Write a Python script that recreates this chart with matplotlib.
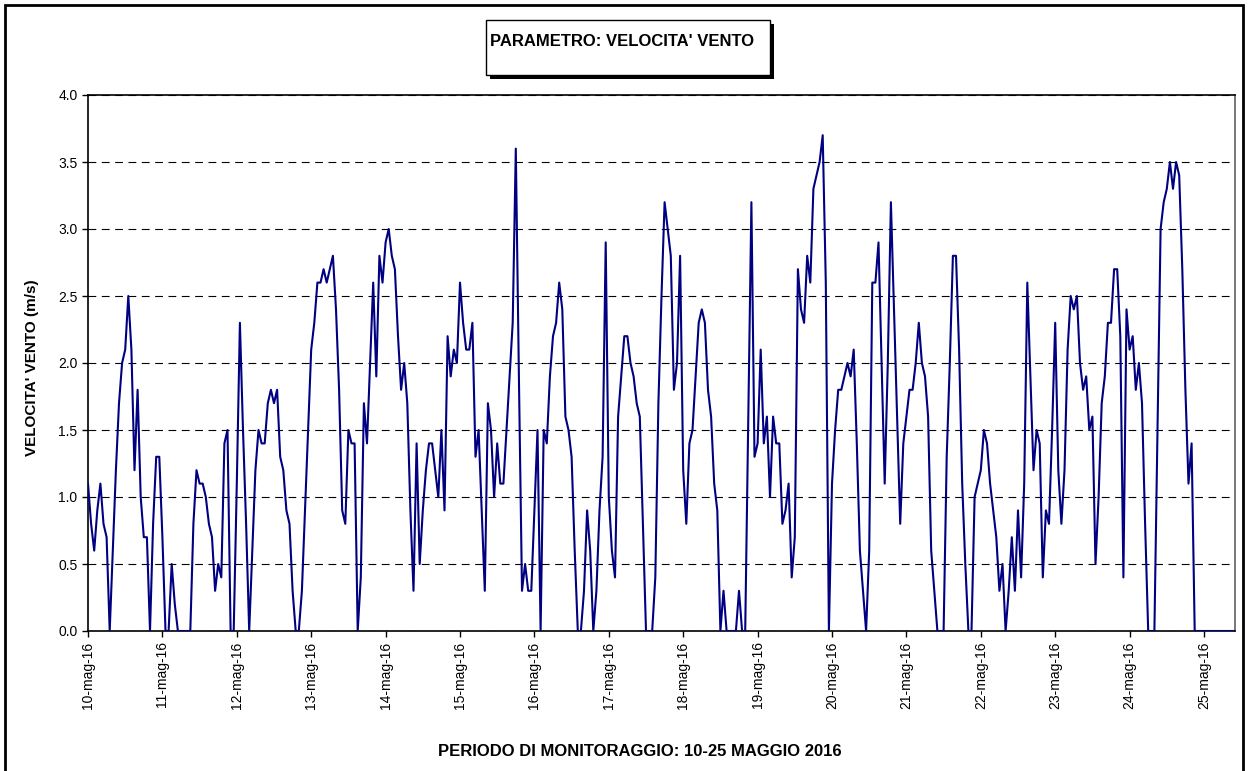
import numpy as np
import matplotlib
matplotlib.use("Agg")  # nessun display
import matplotlib.pyplot as plt
from matplotlib.patches import Rectangle

plt.rcParams["font.family"] = ["Liberation Sans", "DejaVu Sans"]

# ---------------------------------------------------------------------------
# Dati: velocita' del vento oraria (m/s), 10-25 maggio 2016
# ---------------------------------------------------------------------------

giorni = ["10-mag-16", "11-mag-16", "12-mag-16", "13-mag-16", "14-mag-16",
          "15-mag-16", "16-mag-16", "17-mag-16", "18-mag-16", "19-mag-16",
          "20-mag-16", "21-mag-16", "22-mag-16", "23-mag-16", "24-mag-16",
          "25-mag-16"]

vento_10 = [1.1, 0.8, 0.6, 0.9, 1.1, 0.8, 0.7, 0.0, 0.6, 1.2, 1.7, 2.0,
            2.1, 2.5, 2.1, 1.2, 1.8, 1.0, 0.7, 0.7, 0.0, 0.8, 1.3, 1.3]
vento_11 = [0.7, 0.0, 0.0, 0.5, 0.2, 0.0, 0.0, 0.0, 0.0, 0.0, 0.8, 1.2,
            1.1, 1.1, 1.0, 0.8, 0.7, 0.3, 0.5, 0.4, 1.4, 1.5, 0.0, 0.0]
vento_12 = [1.1, 2.3, 1.5, 0.8, 0.0, 0.6, 1.2, 1.5, 1.4, 1.4, 1.7, 1.8,
            1.7, 1.8, 1.3, 1.2, 0.9, 0.8, 0.3, 0.0, 0.0, 0.3, 0.9, 1.5]
vento_13 = [2.1, 2.3, 2.6, 2.6, 2.7, 2.6, 2.7, 2.8, 2.4, 1.8, 0.9, 0.8,
            1.5, 1.4, 1.4, 0.0, 0.4, 1.7, 1.4, 2.0, 2.6, 1.9, 2.8, 2.6]
vento_14 = [2.9, 3.0, 2.8, 2.7, 2.2, 1.8, 2.0, 1.7, 0.9, 0.3, 1.4, 0.5,
            0.9, 1.2, 1.4, 1.4, 1.2, 1.0, 1.5, 0.9, 2.2, 1.9, 2.1, 2.0]
vento_15 = [2.6, 2.3, 2.1, 2.1, 2.3, 1.3, 1.5, 0.9, 0.3, 1.7, 1.5, 1.0,
            1.4, 1.1, 1.1, 1.5, 1.9, 2.3, 3.6, 1.9, 0.3, 0.5, 0.3, 0.3]
vento_16 = [0.9, 1.5, 0.0, 1.5, 1.4, 1.9, 2.2, 2.3, 2.6, 2.4, 1.6, 1.5,
            1.3, 0.6, 0.0, 0.0, 0.3, 0.9, 0.6, 0.0, 0.3, 0.9, 1.3, 2.9]
vento_17 = [1.0, 0.6, 0.4, 1.6, 1.9, 2.2, 2.2, 2.0, 1.9, 1.7, 1.6, 0.8,
            0.0, 0.0, 0.0, 0.4, 1.7, 2.5, 3.2, 3.0, 2.8, 1.8, 2.0, 2.8]
vento_18 = [1.2, 0.8, 1.4, 1.5, 1.9, 2.3, 2.4, 2.3, 1.8, 1.6, 1.1, 0.9,
            0.0, 0.3, 0.0, 0.0, 0.0, 0.0, 0.3, 0.0, 0.0, 1.6, 3.2, 1.3]
vento_19 = [1.4, 2.1, 1.4, 1.6, 1.0, 1.6, 1.4, 1.4, 0.8, 0.9, 1.1, 0.4,
            0.7, 2.7, 2.4, 2.3, 2.8, 2.6, 3.3, 3.4, 3.5, 3.7, 2.6, 0.0]
vento_20 = [1.1, 1.5, 1.8, 1.8, 1.9, 2.0, 1.9, 2.1, 1.4, 0.6, 0.3, 0.0,
            0.6, 2.6, 2.6, 2.9, 2.0, 1.1, 2.0, 3.2, 2.4, 1.6, 0.8, 1.4]
vento_21 = [1.6, 1.8, 1.8, 2.0, 2.3, 2.0, 1.9, 1.6, 0.6, 0.3, 0.0, 0.0,
            0.0, 1.3, 2.0, 2.8, 2.8, 2.1, 1.1, 0.5, 0.0, 0.0, 1.0, 1.1]
vento_22 = [1.2, 1.5, 1.4, 1.1, 0.9, 0.7, 0.3, 0.5, 0.0, 0.3, 0.7, 0.3,
            0.9, 0.4, 1.1, 2.6, 1.9, 1.2, 1.5, 1.4, 0.4, 0.9, 0.8, 1.5]
vento_23 = [2.3, 1.2, 0.8, 1.2, 2.1, 2.5, 2.4, 2.5, 2.0, 1.8, 1.9, 1.5,
            1.6, 0.5, 1.0, 1.7, 1.9, 2.3, 2.3, 2.7, 2.7, 2.2, 0.4, 2.4]
vento_24 = [2.1, 2.2, 1.8, 2.0, 1.7, 0.8, 0.0, 0.0, 0.0, 1.5, 3.0, 3.2,
            3.3, 3.5, 3.3, 3.5, 3.4, 2.7, 1.8, 1.1, 1.4, 0.0, 0.0, 0.0]
vento_25 = [0.0, 0.0, 0.0, 0.0, 0.0, 0.0, 0.0, 0.0, 0.0, 0.0, 0.0]

velocita_vento = (vento_10 + vento_11 + vento_12 + vento_13 + vento_14
                  + vento_15 + vento_16 + vento_17 + vento_18 + vento_19
                  + vento_20 + vento_21 + vento_22 + vento_23 + vento_24
                  + vento_25)

# ---------------------------------------------------------------------------
# Grafico
# ---------------------------------------------------------------------------

W, H = 1248, 771
fig = plt.figure(figsize=(W / 100, H / 100), dpi=100)

ax = fig.add_axes([88 / W, 1 - 631 / H, (1235 - 88) / W, (631 - 95) / H])

ore = np.arange(len(velocita_vento))
ax.plot(ore, velocita_vento, color="#000080", lw=1.5, zorder=3)

ax.set_xlim(0, len(velocita_vento) - 1)
ax.set_ylim(0, 4)

yticks = np.arange(0, 4.01, 0.5)
ax.set_yticks(yticks)
ax.set_yticklabels([f"{v:.1f}" for v in yticks], fontsize=10)
ax.yaxis.grid(True, linestyle=(0, (7, 5)), color="black", lw=0.8)
ax.set_axisbelow(True)

ax.set_xticks(np.arange(len(giorni)) * 24)
ax.set_xticklabels(giorni, rotation=90, fontsize=10)
ax.tick_params(axis="both", direction="out", length=4, width=1, color="black")

for lato in ("left", "bottom", "top"):
    ax.spines[lato].set_color("black")
    ax.spines[lato].set_linewidth(1.2)
ax.spines["right"].set_color("#606060")
ax.spines["right"].set_linewidth(1.2)

fig.text(32 / W, 1 - 368 / H, "VELOCITA' VENTO (m/s)", rotation=90,
         ha="center", va="center", fontsize=11, fontweight="bold")
fig.text(640 / W, 1 - 752 / H, "PERIODO DI MONITORAGGIO: 10-25 MAGGIO 2016",
         ha="center", va="center", fontsize=12, fontweight="bold")

# riquadro del titolo con ombra
bx0, by0, bx1, by1 = 486, 20, 770, 75
fig.patches.append(Rectangle(((bx0 + 4) / W, 1 - (by1 + 4) / H),
                             (bx1 - bx0) / W, (by1 - by0) / H,
                             transform=fig.transFigure, facecolor="black",
                             edgecolor="black", lw=0))
fig.patches.append(Rectangle((bx0 / W, 1 - by1 / H),
                             (bx1 - bx0) / W, (by1 - by0) / H,
                             transform=fig.transFigure, facecolor="white",
                             edgecolor="black", lw=1))
fig.text(490 / W, 1 - 42 / H, "PARAMETRO: VELOCITA' VENTO",
         ha="left", va="center", fontsize=12, fontweight="bold")

# cornice esterna
fig.patches.append(Rectangle((5 / W, -0.02), (1243 - 5) / W, 1.02 - 5 / H,
                             transform=fig.transFigure, facecolor="none",
                             edgecolor="black", lw=2))

fig.savefig("out.png", dpi=100)
